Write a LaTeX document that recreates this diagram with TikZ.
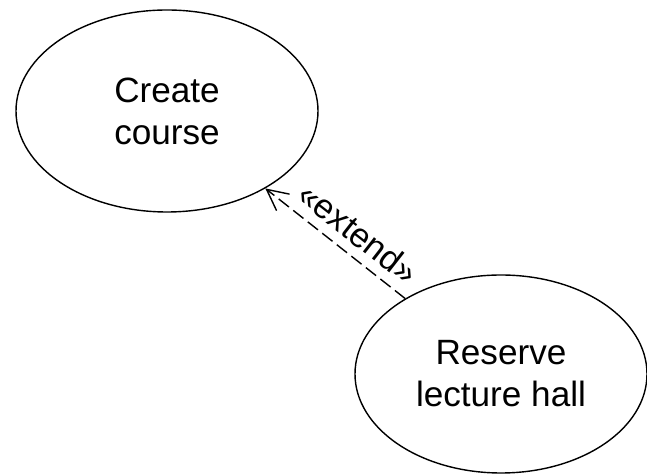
\documentclass[tikz,border=0pt]{standalone}
\usepackage{fontspec}
\setmainfont{Liberation Sans}
\usepackage{tikz}
\usetikzlibrary{shapes.geometric, arrows.meta, positioning}

\begin{document}
\begin{tikzpicture}[
        x=0.02cm, y=-0.02cm,
        usecase/.style={ellipse, draw, line width=0.8pt, inner sep=0pt,
            align=center, font=\fontsize{20}{24}\selectfont},
        extendarrow/.style={-{Straight Barb[length=0.42cm, width=0.42cm, line width=0.8pt]},
            line width=0.8pt, dash pattern=on 0.26cm off 0.11cm}
        ]
        \useasboundingbox (0,0) rectangle (647,475);

        % Use cases
        \node[usecase, minimum width=302*0.02cm, minimum height=202*0.02cm] (create) at (167,111) {Create\\course};
        \node[usecase, minimum width=292*0.02cm, minimum height=198*0.02cm] (reserve) at (501,374) {Reserve\\lecture hall};

        % Extend relation
        \draw[extendarrow] (reserve) -- (create);
        \node[rotate=-38, font=\fontsize{19.5}{24}\selectfont] (extendlabel) at (359,233) {«extend»};

    \end{tikzpicture}
\end{document}
